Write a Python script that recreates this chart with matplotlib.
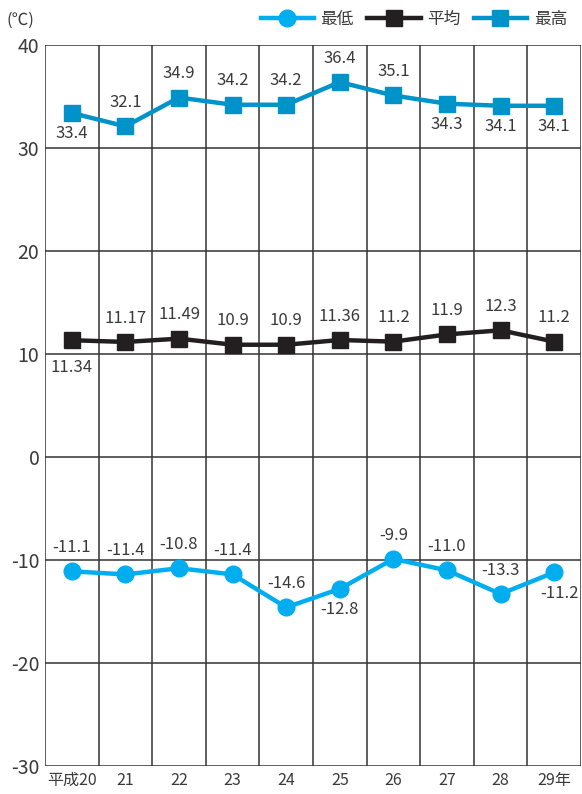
import numpy as np
import matplotlib
matplotlib.use('Agg')
import matplotlib.pyplot as plt

plt.rcParams['font.family'] = ['Noto Sans CJK JP', 'DejaVu Sans']

# data
years = ['平成20', '21', '22', '23', '24', '25', '26', '27', '28', '29年']
t_max = [33.4, 32.1, 34.9, 34.2, 34.2, 36.4, 35.1, 34.3, 34.1, 34.1]
t_avg = [11.34, 11.17, 11.49, 10.9, 10.9, 11.36, 11.2, 11.9, 12.3, 11.2]
t_min = [-11.1, -11.4, -10.8, -11.4, -14.6, -12.8, -9.9, -11.0, -13.3, -11.2]
max_lbl = ['33.4', '32.1', '34.9', '34.2', '34.2', '36.4', '35.1', '34.3', '34.1', '34.1']
avg_lbl = ['11.34', '11.17', '11.49', '10.9', '10.9', '11.36', '11.2', '11.9', '12.3', '11.2']
min_lbl = ['-11.1', '-11.4', '-10.8', '-11.4', '-14.6', '-12.8', '-9.9', '-11.0', '-13.3', '-11.2']
# label placement: 1 above, -1 below
max_pos = [-1, 1, 1, 1, 1, 1, 1, -1, -1, -1]
avg_pos = [-1, 1, 1, 1, 1, 1, 1, 1, 1, 1]
min_pos = [1, 1, 1, 1, 1, -1, 1, 1, 1, -1]

c_min = '#00aeef'
c_avg = '#231f20'
c_max = '#0093c9'
txt = '#3a3a3a'

fig = plt.figure(figsize=(5.82, 7.94), dpi=100)
ax = fig.add_axes([45/582, 28/794, 536/582, 721/794])

x = np.arange(len(years))
ax.set_xlim(-0.5, len(years) - 0.5)
ax.set_ylim(-30, 40)

for b in np.arange(-0.5, len(years), 1):
    ax.axvline(b, color='#333333', lw=1.1, zorder=1)
for v in range(-30, 41, 10):
    ax.axhline(v, color='#333333', lw=1.1, zorder=1)
for s in ax.spines.values():
    s.set_visible(False)

ax.plot(x, t_min, color=c_min, lw=3.2, marker='o', ms=12, label='最低', zorder=3)
ax.plot(x, t_avg, color=c_avg, lw=3.2, marker='s', ms=12, label='平均', zorder=3)
ax.plot(x, t_max, color=c_max, lw=3.2, marker='s', ms=12, label='最高', zorder=3)

def put_labels(vals, lbls, pos, up=11, down=-21, dx=None):
    for i, (v, l, p) in enumerate(zip(vals, lbls, pos)):
        ox = 0 if dx is None else dx[i]
        oy = up if p > 0 else down
        ax.annotate(l, (i, v), xytext=(ox, oy), textcoords='offset points',
                    ha='center', va='bottom', fontsize=12, color=txt, zorder=4)

put_labels(t_max, max_lbl, max_pos)
put_labels(t_avg, avg_lbl, avg_pos, down=-26)
put_labels(t_min, min_lbl, min_pos, dx=[0, 0, 0, 0, 0, 0, 0, 0, 0, 4])

ax.set_yticks(range(-30, 41, 10))
ax.set_yticklabels([str(v) for v in range(-30, 41, 10)], fontsize=14, color=txt)
ax.set_xticks(x)
ax.set_xticklabels(years, fontsize=11.5, color=txt)
ax.tick_params(length=0, pad=4)

fig.text(0.012, 0.975, '(℃)', fontsize=12, color=txt, va='center')
fig.legend(loc='upper right', bbox_to_anchor=(1.0, 1.005), ncol=3, frameon=False,
           fontsize=12, handlelength=3.2, handletextpad=0.4, columnspacing=0.8,
           labelcolor=txt)

fig.savefig('out.png', dpi=100)
